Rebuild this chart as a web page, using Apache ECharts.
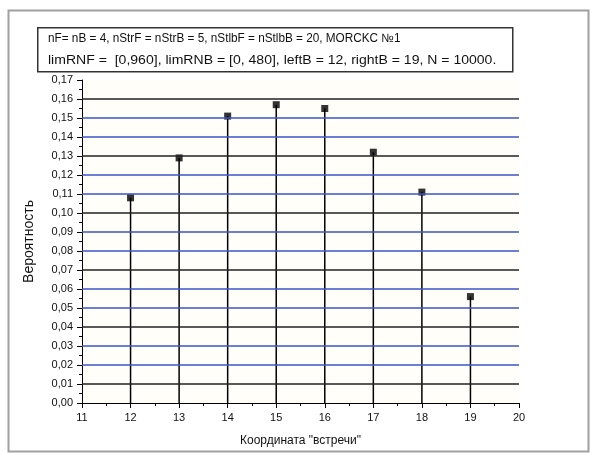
<!DOCTYPE html>
<html><head><meta charset="utf-8">
<script src="https://cdn.jsdelivr.net/npm/echarts@6/dist/echarts.min.js"></script>
<style>html,body{margin:0;padding:0;background:#fff}#c{width:592px;height:455px}</style>
</head><body><div id="c"></div>
<script>
const categories = [12, 13, 14, 15, 16, 17, 18, 19];
const probabilities = [0.108, 0.129, 0.151, 0.157, 0.155, 0.132, 0.111, 0.056];
const gridValues = [0.01, 0.02, 0.03, 0.04, 0.05, 0.06, 0.07, 0.08, 0.09, 0.10, 0.11, 0.12, 0.13, 0.14, 0.15, 0.16];
const titleLine1 = 'nF= nB = 4, nStrF = nStrB = 5, nStlbF = nStlbB = 20, MORCKC №1';
const titleLine2 = 'limRNF =  [0,960], limRNB = [0, 480], leftB = 12, rightB = 19, N = 10000.';
const xName = 'Координата "встречи"';
const yName = 'Вероятность';

const pts = categories.map((c, i) => [c, probabilities[i]]);
const chart = echarts.init(document.getElementById('c'), null, {renderer: 'canvas'});
const font = '"Liberation Sans", Arial, sans-serif';
const graphics = [
  {type: 'rect', left: 6, top: 8, shape: {width: 580, height: 441}, style: {fill: 'none', stroke: '#a0a0a0', lineWidth: 2}, silent: true},
  {type: 'rect', left: 82, top: 80, shape: {width: 437, height: 323}, style: {fill: '#fffef9'}, silent: true, z: -1},
  {type: 'rect', left: 37, top: 27, shape: {width: 475, height: 44}, style: {fill: '#fff', stroke: '#333', lineWidth: 1.5}, silent: true},
  {type: 'text', x: 48, y: 33, scaleX: 0.98, scaleY: 1, style: {text: titleLine1, font: '12px ' + font, fill: '#111'}},
  {type: 'text', x: 48, y: 55, scaleX: 1.17, scaleY: 1, style: {text: titleLine2, font: '12px ' + font, fill: '#111'}}
];

chart.setOption({
  animation: false,
  backgroundColor: '#fff',
  grid: {left: 82, right: 73, top: 80, bottom: 52, containLabel: false},
  graphic: graphics,
  xAxis: {
    type: 'value', min: 11, max: 20, interval: 1,
    name: xName, nameLocation: 'middle', nameGap: 32,
    nameTextStyle: {fontFamily: font, fontSize: 12, color: '#111'},
    axisLine: {show: true, onZero: false, lineStyle: {color: '#000', width: 1}},
    axisTick: {show: true, length: 5, lineStyle: {color: '#000'}},
    minorTick: {show: true, splitNumber: 2, length: 3, lineStyle: {color: '#000'}},
    axisLabel: {fontFamily: font, fontSize: 11, color: '#111', margin: 9},
    splitLine: {show: false}
  },
  yAxis: {
    type: 'value', min: 0, max: 0.17, interval: 0.01,
    name: yName, nameLocation: 'middle', nameGap: 46,
    nameTextStyle: {fontFamily: font, fontSize: 14, color: '#111'},
    axisLine: {show: true, onZero: false, lineStyle: {color: '#000', width: 1}},
    axisTick: {show: true, length: 5, lineStyle: {color: '#000'}},
    minorTick: {show: true, splitNumber: 2, length: 3, lineStyle: {color: '#000'}},
    axisLabel: {fontFamily: font, fontSize: 11, color: '#111', margin: 9,
      formatter: v => v.toFixed(2).replace('.', ',')},
    splitLine: {show: false}
  },
  series: [
    {type: 'line', data: [], markLine: {
      silent: true, symbol: 'none', label: {show: false}, animation: false,
      data: gridValues.map((v, i) => ({yAxis: v, lineStyle: {type: 'solid', width: 1.5, color: (i % 3 === 0) ? '#222222' : '#3d55c8'}}))
    }, z: 1},
    {type: 'bar', data: pts, barWidth: 1.5, itemStyle: {color: '#000'}, z: 3},
    {type: 'scatter', data: pts, symbol: 'rect', symbolSize: 7, itemStyle: {color: '#000'}, z: 4}
  ]
});
</script></body></html>
